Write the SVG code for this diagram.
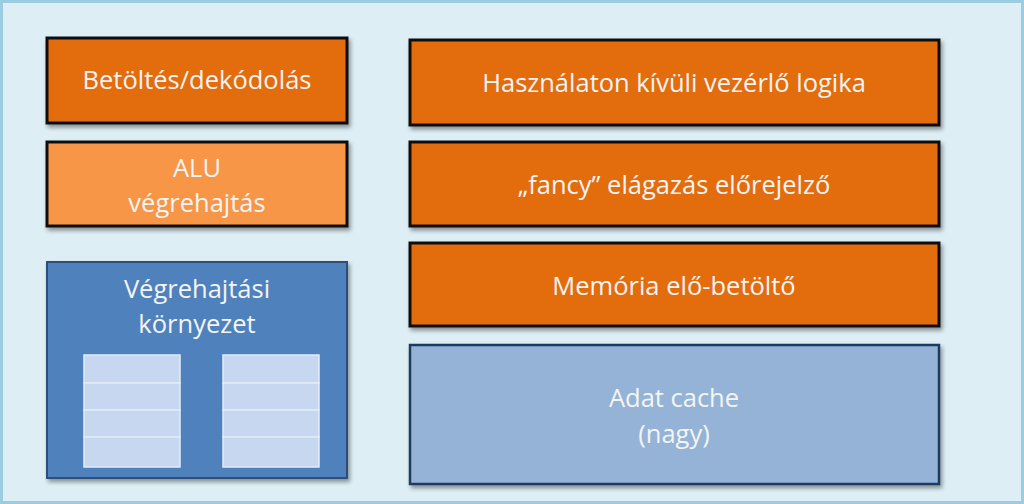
<svg xmlns="http://www.w3.org/2000/svg" width="1024" height="504" viewBox="0 0 1024 504">
<style>
.t{font-family:"Open Sans","Liberation Sans",sans-serif;font-size:25.5px;fill:#F4F4F4;text-anchor:middle}
.dark{fill:#E36C0A;stroke:#111;stroke-width:3}
.light{fill:#F79646;stroke:#111;stroke-width:3}
.blue{fill:#4F81BD;stroke:#2E4D78;stroke-width:2}
.lblue{fill:#95B3D7;stroke:#1F3A60;stroke-width:2.5}
.cell{fill:#C6D7EF;stroke:#E2ECF8;stroke-width:1.5}
</style>
<defs>
<filter id="sh" x="-5%" y="-5%" width="110%" height="115%">
<feDropShadow dx="2" dy="3" stdDeviation="2" flood-color="#000" flood-opacity="0.4"/>
</filter>
</defs>
<rect x="1.5" y="1.5" width="1021" height="501" fill="#DDEEF4" stroke="#9ACDE0" stroke-width="3"/>
<g id="n1"><rect class="dark" x="47" y="38" width="300" height="85" filter="url(#sh)"/><text class="t" x="197" y="89">Betöltés/dekódolás</text></g>
<g id="n2"><rect class="light" x="47" y="142" width="300" height="84" filter="url(#sh)"/><text class="t" x="197" y="177">ALU</text><text class="t" x="197" y="212">végrehajtás</text></g>
<g id="n3"><rect class="blue" x="47" y="262" width="300" height="216" filter="url(#sh)"/><text class="t" x="197" y="298">Végrehajtási</text><text class="t" x="197" y="333">környezet</text>
<rect class="cell" x="84" y="355" width="96" height="28"/><rect class="cell" x="84" y="383" width="96" height="27"/><rect class="cell" x="84" y="410" width="96" height="27"/><rect class="cell" x="84" y="437" width="96" height="30"/>
<rect class="cell" x="223" y="355" width="96" height="28"/><rect class="cell" x="223" y="383" width="96" height="27"/><rect class="cell" x="223" y="410" width="96" height="27"/><rect class="cell" x="223" y="437" width="96" height="30"/>
</g>
<g id="n4"><rect class="dark" x="410" y="40" width="529" height="85" filter="url(#sh)"/><text class="t" x="674" y="92">Használaton kívüli vezérlő logika</text></g>
<g id="n5"><rect class="dark" x="410" y="142" width="529" height="84" filter="url(#sh)"/><text class="t" x="674" y="194">„fancy” elágazás előrejelző</text></g>
<g id="n6"><rect class="dark" x="410" y="243" width="529" height="83" filter="url(#sh)"/><text class="t" x="674" y="295">Memória elő-betöltő</text></g>
<g id="n7"><rect class="lblue" x="410" y="345" width="529" height="139" filter="url(#sh)"/><text class="t" x="674" y="407">Adat cache</text><text class="t" x="674" y="443">(nagy)</text></g>
<g id="connectors"/>
</svg>
